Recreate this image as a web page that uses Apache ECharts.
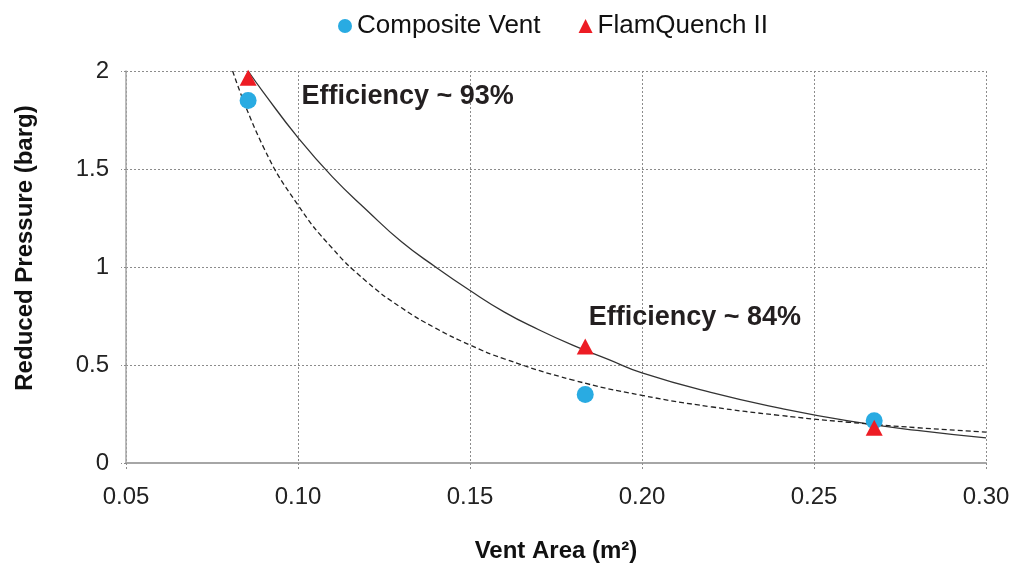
<!DOCTYPE html>
<html>
<head>
<meta charset="utf-8">
<script src="https://cdn.jsdelivr.net/npm/echarts@6/dist/echarts.min.js"></script>
<style>
  html, body { margin: 0; padding: 0; background: #fff; }
  #chart { width: 1015px; height: 568px; }
</style>
</head>
<body>
<div id="chart"></div>
<script>
// measured points
var compositeVent = [[0.0855, 1.85], [0.1835, 0.35], [0.2675, 0.215]];
var flamQuench = [[0.0855, 1.965], [0.1835, 0.595], [0.2675, 0.18]];

// trend lines
var solidTrend = [
    [0.0855, 2.0], [0.09, 1.89], [0.10, 1.66], [0.11, 1.46], [0.12, 1.29], [0.13, 1.13],
    [0.14, 1.0], [0.15, 0.88], [0.16, 0.77], [0.17, 0.68], [0.18, 0.60], [0.19, 0.53],
    [0.20, 0.46], [0.22, 0.36], [0.24, 0.28], [0.26, 0.215], [0.28, 0.166], [0.30, 0.128]
];
var dashedTrend = [
    [0.081, 2.0], [0.09, 1.61], [0.10, 1.316], [0.11, 1.095], [0.12, 0.925], [0.13, 0.793],
    [0.14, 0.688], [0.15, 0.602], [0.16, 0.531], [0.18, 0.423], [0.20, 0.345], [0.22, 0.287],
    [0.24, 0.243], [0.26, 0.208], [0.28, 0.180], [0.30, 0.158]
];

var notes = [[0.101, 1.87, 'Efficiency ~ 93%'], [0.1845, 0.74, 'Efficiency ~ 84%']];

var chart = echarts.init(document.getElementById('chart'));

var gridDash = { color: '#8c8c8c', type: [2, 2], width: 1 };

chart.setOption({
    animation: false,
    textStyle: { fontFamily: 'Liberation Sans, Arial, sans-serif' },
    legend: {
        left: 333,
        top: 8,
        itemWidth: 14,
        itemHeight: 14,
        itemGap: 38,
        textStyle: { fontSize: 26, color: '#111' },
        data: [
            { name: 'Composite Vent', icon: 'circle' },
            { name: 'FlamQuench II', icon: 'triangle' }
        ]
    },
    grid: { left: 126, right: 29, top: 71, bottom: 105 },
    xAxis: {
        type: 'value',
        min: 0.05,
        max: 0.30,
        interval: 0.05,
        name: 'Vent Area (m²)',
        nameLocation: 'middle',
        nameGap: 76,
        nameTextStyle: { fontSize: 24, fontWeight: 'bold', color: '#111' },
        axisLine: { lineStyle: { color: '#a6a6a6', width: 2 } },
        axisTick: { show: true, length: 8, lineStyle: gridDash },
        axisLabel: {
            fontSize: 24, color: '#222', margin: 22,
            formatter: function (v) { return v.toFixed(2); }
        },
        splitLine: { show: true, lineStyle: gridDash }
    },
    yAxis: {
        type: 'value',
        min: 0,
        max: 2,
        interval: 0.5,
        name: 'Reduced Pressure (barg)',
        nameLocation: 'middle',
        nameGap: 89,
        nameTextStyle: { fontSize: 24, fontWeight: 'bold', color: '#111', padding: [0, 0, 0, 38] },
        axisLine: { show: true, lineStyle: { color: '#a6a6a6', width: 1.5 } },
        axisTick: { show: true, length: 5, lineStyle: gridDash },
        axisLabel: { fontSize: 24, color: '#222', margin: 17 },
        splitLine: { show: true, lineStyle: gridDash }
    },
    series: [
        {
            name: 'solid trend',
            type: 'line',
            data: solidTrend,
            smooth: true,
            showSymbol: false,
            silent: true,
            lineStyle: { color: '#333', width: 1.3 },
            z: 2
        },
        {
            name: 'dashed trend',
            type: 'line',
            data: dashedTrend,
            smooth: true,
            showSymbol: false,
            silent: true,
            lineStyle: { color: '#222', width: 1.3, type: [5, 3] },
            z: 2
        },
        {
            name: 'Composite Vent',
            type: 'scatter',
            data: compositeVent,
            symbol: 'circle',
            symbolSize: 17,
            itemStyle: { color: '#29abe2', opacity: 1 },
            z: 3
        },
        {
            name: 'FlamQuench II',
            type: 'scatter',
            data: flamQuench,
            symbol: 'triangle',
            symbolSize: [17, 16],
            itemStyle: { color: '#ed1c24', opacity: 1 },
            z: 4
        },
        {
            name: 'notes',
            type: 'scatter',
            data: notes,
            symbolSize: 0,
            silent: true,
            itemStyle: { opacity: 1 },
            label: {
                show: true,
                position: 'right',
                distance: 0,
                fontSize: 27,
                fontWeight: 'bold',
                color: '#231f20',
                formatter: function (p) { return p.data[2]; }
            },
            z: 5
        }
    ]
});
</script>
</body>
</html>
